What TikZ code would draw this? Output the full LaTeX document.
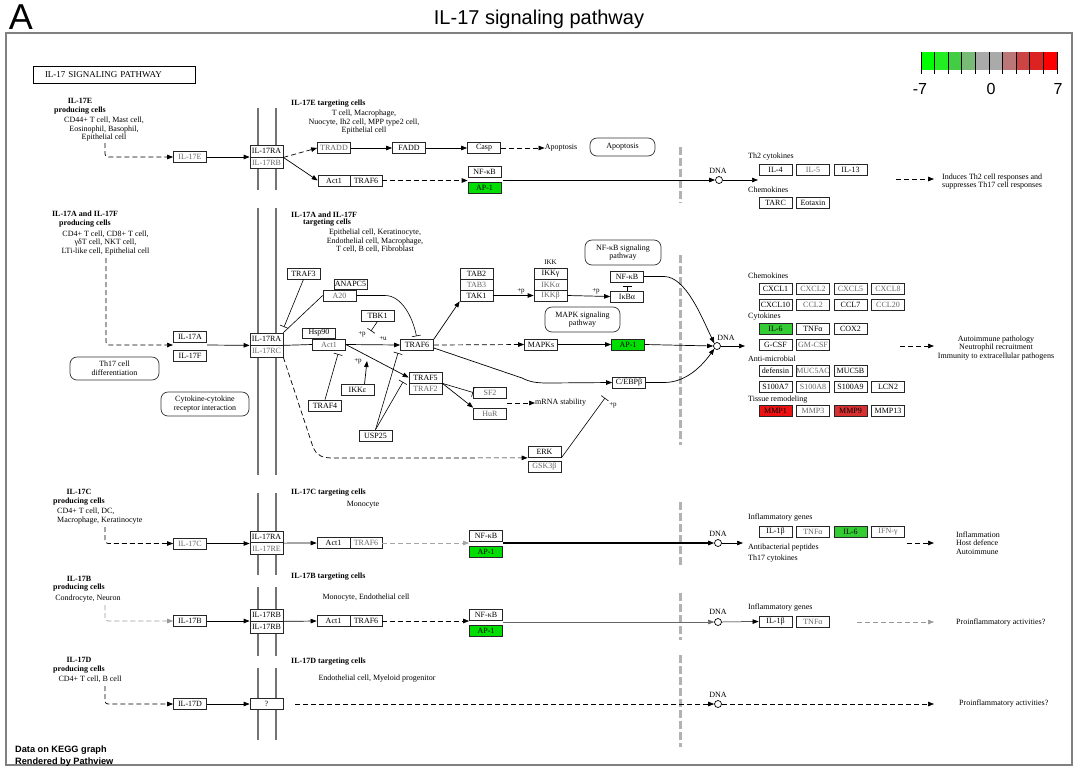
\documentclass[tikz,border=0pt]{standalone}
\usepackage{fontspec}
\setmainfont{Liberation Serif}
\newfontfamily\sansf{Liberation Sans}
\usetikzlibrary{arrows.meta,calc}
\newcommand\kgf{\fontsize{8}{8.5}\selectfont}
\newcommand\khf{\fontsize{8}{8.5}\selectfont\bfseries}
\newcommand\ksf{\fontsize{7}{8}\selectfont}
\definecolor{apgreen}{HTML}{00DD00}
\definecolor{ilgreen}{HTML}{33CC33}
\definecolor{mmpa}{HTML}{EE1111}
\definecolor{mmpb}{HTML}{D83030}
\definecolor{lg1}{HTML}{00FF00}
\definecolor{lg2}{HTML}{22EE22}
\definecolor{lg3}{HTML}{44CC44}
\definecolor{lg4}{HTML}{77BB77}
\definecolor{lg5}{HTML}{AAAAAA}
\definecolor{lg6}{HTML}{AAAAAA}
\definecolor{lg7}{HTML}{BB7777}
\definecolor{lg8}{HTML}{CC4444}
\definecolor{lg9}{HTML}{DD2222}
\definecolor{lg10}{HTML}{FF0000}
\begin{document}
\begin{tikzpicture}[x=1pt,y=-1pt,
  gene/.style={draw=black!85, fill=white, line width=0.7pt, minimum width=33pt, minimum height=11pt, inner sep=0pt, font=\kgf},
  gtxt/.style={text=black!60},
  pwbox/.style={draw=black!80, line width=0.7pt, rounded corners=7pt, align=center, font=\kgf, inner sep=0pt},
  captxt/.style={font=\kgf, align=center, inner sep=0pt},
  captxtl/.style={font=\kgf, anchor=west, inner sep=0pt},
  hdtxt/.style={font=\khf, align=center, inner sep=0pt},
  hdtxtl/.style={font=\khf, anchor=west, inner sep=0pt},
  plbl/.style={font=\ksf, inner sep=0pt},
  arr/.style={-{Triangle[length=6pt,width=4.5pt]}, line width=0.7pt},
  inh/.style={-{Bar[width=9pt]}, line width=0.6pt},
  membr/.style={draw=black!55, line width=2.5pt},
  dsh/.style={dash pattern=on 5pt off 3pt},
  fence/.style={draw=black!30, line width=3pt, dash pattern=on 8pt off 3pt},
  dnac/.style={circle, draw, fill=white, inner sep=0pt, minimum size=7pt, line width=0.7pt}
]
\useasboundingbox (0,0) rectangle (1078,769);
\fill[white] (0,0) rectangle (1078,769);

% ---------- header ----------
\node[font=\sansf\fontsize{36}{36}\selectfont, inner sep=0pt] (lblA) at (21,17.5) {A};
\node[font=\sansf\fontsize{20}{20}\selectfont, inner sep=0pt] (title) at (539,19) {IL-17 signaling pathway};
\draw[black!50, line width=1.2pt] (6,33) rectangle (1072,765);
\node[draw=black, line width=1pt, minimum width=162pt, minimum height=17pt, text width=138pt, align=left, inner sep=0pt, font=\fontsize{9}{9}\selectfont] (tbox) at (114,74.5) {IL-17 SIGNALING PATHWAY};

% legend
\foreach \i in {1,...,10} \fill[lg\i] ({921+(\i-1)*13.6},52) rectangle ++(13.6,18);
\foreach \i in {0,...,10} \draw[black, line width=0.8pt] ({921+\i*13.6},52) -- ++(0,22);
\node[font=\sansf\fontsize{16}{16}\selectfont, inner sep=0pt] (lgm) at (920,89) {-7};
\node[font=\sansf\fontsize{16}{16}\selectfont, inner sep=0pt] (lgz) at (991,89) {0};
\node[font=\sansf\fontsize{16}{16}\selectfont, inner sep=0pt] (lgp) at (1058,89) {7};

% membranes and fences
\foreach \a/\b in {108/190, 208/475, 493/575, 587/656, 668/740} {
  \draw[membr] (258,\a) -- (258,\b);
  \draw[membr] (276,\a) -- (276,\b);
}
\foreach \a/\b in {147/203, 255/445, 502/565, 593/640, 655/747}
  \draw[fence] (680,\a) -- (680,\b);

% ---------- Row 1: IL-17E ----------
\node[hdtxt] (h1) at (80,106) {IL-17E\\producing cells};
\node[captxt] (c1) at (104,129.5) {CD44+ T cell, Mast cell,\\Eosinophil, Basophil,\\Epithelial cell};
\node[hdtxtl] (t1) at (291,104) {IL-17E targeting cells};
\node[captxt] (tc1) at (364,122.5) {T cell, Macrophage,\\Nuocyte, Ih2 cell, MPP type2 cell,\\Epithelial cell};
\node[gene,gtxt] (il17e) at (190,157) {IL-17E};
\node[gene,minimum height=11.5pt] (r1a) at (266.5,151.3) {IL-17RA};
\node[gene,gtxt,minimum height=11.5pt] (r1b) at (266.5,162.7) {IL-17RB};
\node[gene,gtxt] (tradd) at (334,148) {TRADD};
\node[gene] (fadd) at (409,148) {FADD};
\node[gene] (casp) at (484,148) {Casp};
\node[captxt] (apoptxt) at (561,148) {Apoptosis};
\node[pwbox, minimum width=65pt, minimum height=18pt] (apopbox) at (622.5,147) {Apoptosis};
\node[gene,minimum width=32pt] (act1e) at (334,180.5) {Act1};
\node[gene,minimum width=32pt] (traf6e) at (366,180.5) {TRAF6};
\node[gene] (nfkbe) at (484.5,171.5) {NF-κB};
\node[gene,fill=apgreen] (ap1e) at (484.5,187.5) {AP-1};
\node[dnac] (dna1) at (719,180) {};
\node[captxt] (dnat1) at (718,171) {DNA};
\node[captxtl] (th2) at (748,157) {Th2 cytokines};
\node[gene] (il4) at (775.5,170) {IL-4};
\node[gene,gtxt] (il5) at (813,170) {IL-5};
\node[gene] (il13) at (850.5,170) {IL-13};
\node[captxtl] (chem1) at (748,190) {Chemokines};
\node[gene] (tarc) at (775.5,202.5) {TARC};
\node[gene] (eotaxin) at (813,202.5) {Eotaxin};
\node[captxtl, align=left] (out1) at (942,181.5) {Induces Th2 cell responses and\\suppresses Th17 cell responses};

\coordinate (s1) at (105,143);
\coordinate (o1) at (503,180);
\coordinate (e1) at (758,180);
\coordinate (d1a) at (896,179);
\coordinate (d1b) at (934,179);
\draw[arr,dsh,rounded corners=3pt] (s1) |- (il17e.west);
\draw[arr] (il17e.east) -- (il17e.east -| r1a.west);
\draw[arr,dsh] (r1a.south east) -- (tradd.west);
\draw[arr] (r1a.south east) -- (act1e.west);
\draw[arr] (tradd) -- (fadd);
\draw[arr] (fadd) -- (casp);
\draw[arr,dsh] (casp) -- (apoptxt);
\draw[arr,dsh] (traf6e.east) -- (traf6e.east -| nfkbe.west);
\draw[arr] (o1) -- (dna1.west);
\draw[arr] (dna1.east) -- (e1);
\draw[arr,dsh] (d1a) -- (d1b);

% ---------- Row 2: IL-17A / IL-17F ----------
\node[hdtxt] (h2) at (85,219) {IL-17A and IL-17F\\producing cells};
\node[captxt] (c2) at (105.5,243) {CD4+ T cell, CD8+ T cell,\\γδT cell, NKT cell,\\LTi-like cell, Epithelial cell};
\node[hdtxtl] (t2) at (291,215) {IL-17A and IL-17F};
\node[hdtxt] (t2b) at (327,223) {targeting cells};
\node[captxt] (tc2) at (375,241) {Epithelial cell, Keratinocyte,\\Endothelial cell, Macrophage,\\T cell, B cell, Fibroblast};
\node[gene] (il17a) at (190,336.5) {IL-17A};
\node[gene] (il17f) at (190,355.5) {IL-17F};
\node[gene,minimum height=12pt] (r2a) at (266.5,339) {IL-17RA};
\node[gene,gtxt,minimum height=12pt] (r2c) at (266.5,351) {IL-17RC};
\node[pwbox, minimum width=89pt, minimum height=23pt] (th17) at (114.5,368.5) {Th17 cell\\differentiation};
\node[pwbox, minimum width=88pt, minimum height=24pt] (cyto) at (205,404) {Cytokine-cytokine\\receptor interaction};

\node[gene] (traf3) at (303.5,273.5) {TRAF3};
\node[gene,minimum height=10pt] (anapc5) at (350.5,284) {ANAPC5};
\node[gene,gtxt] (a20) at (339.5,295.5) {A20};
\node[gene,minimum height=10pt] (hsp90) at (319,333) {Hsp90};
\node[gene,gtxt] (act1) at (329,344.5) {Act1};
\node[gene] (tbk1) at (377.5,315.5) {TBK1};
\node[gene] (traf6) at (417,345) {TRAF6};
\node[gene] (ikke) at (357.5,390) {IKKε};
\node[gene] (traf4) at (325,405.5) {TRAF4};
\node[gene] (traf5) at (425.5,377.5) {TRAF5};
\node[gene,gtxt] (traf2) at (425.5,388.5) {TRAF2};
\node[gene,gtxt] (sf2) at (490,392.5) {SF2};
\node[gene,gtxt] (hur) at (490,413.5) {HuR};
\node[gene] (usp25) at (375.5,435.5) {USP25};
\node[gene] (erk) at (544.5,452) {ERK};
\node[gene,gtxt] (gsk) at (544.5,467) {GSK3β};
\node[gene] (tab2) at (476.5,273.5) {TAB2};
\node[gene,gtxt] (tab3) at (476.5,284.5) {TAB3};
\node[gene] (tak1) at (476.5,295.5) {TAK1};
\node[plbl] (ikklbl) at (550.5,262) {IKK};
\node[gene] (ikkg) at (550.5,273.5) {IKKγ};
\node[gene,gtxt] (ikka) at (550.5,284.5) {IKKα};
\node[gene,gtxt] (ikkb) at (550.5,295.5) {IKKβ};
\node[gene] (mapks) at (541,344.5) {MAPKs};
\node[pwbox, minimum width=76pt, minimum height=25pt] (nfpath) at (623,252.5) {NF-κB signaling\\pathway};
\node[pwbox, minimum width=75pt, minimum height=25pt] (mapkpath) at (582.5,319.5) {MAPK signaling\\pathway};
\node[gene] (nfkb2) at (627,276.5) {NF-κB};
\node[gene] (ikba) at (627,296.5) {IκBα};
\node[gene,fill=apgreen] (ap1b) at (628,344.5) {AP-1};
\node[gene] (cebpb) at (629,382.5) {C/EBPβ};
\node[captxtl] (mrna) at (535,403) {mRNA stability};
\node[dnac] (dna2) at (717,346) {};
\node[captxt] (dnat2) at (726,338) {DNA};

\node[plbl] (pu) at (383,339) {+u};
\node[plbl] (pp1) at (362,334) {+p};
\node[plbl] (pp2) at (358,361) {+p};
\node[plbl] (pp3) at (521,291.5) {+p};
\node[plbl] (pp4) at (596,291) {+p};
\node[plbl] (pp5) at (613,405) {+p};

% right side of row 2
\node[captxtl] (chem2) at (748,276) {Chemokines};
\node[gene] (cxcl1) at (775.5,288.5) {CXCL1};
\node[gene,gtxt] (cxcl2) at (813,288.5) {CXCL2};
\node[gene,gtxt] (cxcl5) at (850.5,288.5) {CXCL5};
\node[gene,gtxt] (cxcl8) at (888,288.5) {CXCL8};
\node[gene] (cxcl10) at (775.5,304.5) {CXCL10};
\node[gene,gtxt] (ccl2) at (813,304.5) {CCL2};
\node[gene] (ccl7) at (850.5,304.5) {CCL7};
\node[gene,gtxt] (ccl20) at (888,304.5) {CCL20};
\node[captxtl] (cytk) at (748,317) {Cytokines};
\node[gene,fill=ilgreen] (il6b) at (775.5,329) {IL-6};
\node[gene] (tnfab) at (813,329) {TNFα};
\node[gene] (cox2) at (850.5,329) {COX2};
\node[gene] (gcsf) at (775.5,345) {G-CSF};
\node[gene,gtxt] (gmcsf) at (813,345) {GM-CSF};
\node[captxtl] (amic) at (748,359) {Anti-microbial};
\node[gene] (defensin) at (775.5,371) {defensin};
\node[gene,gtxt] (muc5ac) at (813,371) {MUC5AC};
\node[gene] (muc5b) at (850.5,371) {MUC5B};
\node[gene] (s100a7) at (775.5,386.5) {S100A7};
\node[gene,gtxt] (s100a8) at (813,386.5) {S100A8};
\node[gene] (s100a9) at (850.5,386.5) {S100A9};
\node[gene] (lcn2) at (888,386.5) {LCN2};
\node[captxtl] (tissue) at (748,400) {Tissue remodeling};
\node[gene,fill=mmpa] (mmp1) at (775.5,411) {MMP1};
\node[gene,gtxt] (mmp3) at (813,411) {MMP3};
\node[gene,fill=mmpb] (mmp9) at (850.5,411) {MMP9};
\node[gene] (mmp13) at (888,411) {MMP13};
\node[captxt] (out2) at (996,348) {Autoimmune pathology\\Neutrophil recruitment\\Immunity to extracellular pathogens};

\coordinate (s2) at (106,258);
\coordinate (afw) at (173,345);
\coordinate (afe) at (207,345);
\coordinate (t3e) at (284,327);
\coordinate (tbe) at (371,331);
\coordinate (t4e) at (338,354);
\coordinate (ike) at (367,361);
\coordinate (u1) at (398,353);
\coordinate (u2) at (403,382);
\coordinate (ms) at (507,403);
\coordinate (gke) at (605,398);
\coordinate (e2) at (745,346);
\coordinate (d2a) at (900,346);
\coordinate (d2b) at (934,346);

\draw[arr,dsh,rounded corners=3pt] (s2) |- (afw);
\draw[arr] (afe) -- (r2a.south west);
\draw[line width=0.7pt] (r2a.south east) -- (act1.west);
\draw[arr] (act1.east) -- (traf6.west);
\draw[inh] (traf3.south) -- (t3e);
\draw[line width=0.6pt] (r2a.north east) -- (a20.west);
\draw[inh, shorten >=3pt] (a20.east) -- (385,295.5) .. controls (402,295.5) and (413,318) .. (traf6.north);
\draw[inh] (tbk1.south) -- (tbe);
\draw[inh] (traf4.north) -- (t4e);
\draw[arr] ($(ikke.north)+(7,0)$) -- (ike);
\draw[arr] (act1.east) -- (traf5.west);
\draw[inh] (usp25.north) -- (u1);
\draw[inh] (usp25.north) -- (u2);
\draw[arr] (traf6.north east) -- (tak1.south west);
\draw[arr,dsh] (traf6.east) -- (mapks.west);
\draw[arr] ($(traf6.east)+(0,3)$) -- (522,378) .. controls (530,382) and (536,383) .. (548,383) -- (cebpb.west);
\draw[inh] (traf5.south east) -- (sf2.west);
\draw[arr] (traf5.south east) -- (hur.north west);
\draw[arr,dsh] (ms) -- (mrna.west);
\draw[arr] (tak1.east) -- (ikkb.west);
\draw[arr] (ikkb.east) -- (ikba.west);
\draw[inh] (ikba.north) -- ($(nfkb2.south)+(0,4)$);
\draw[arr] (nfkb2.east) -- (664,276.5) .. controls (686,276.5) and (702,318) .. (dna2.north west);
\draw[arr] (mapks.east) -- (ap1b.west);
\draw[arr] (ap1b.east) -- (dna2.west);
\draw[arr] (cebpb.east) -- (664,382.5) .. controls (686,382.5) and (702,366) .. (dna2.south west);
\draw[arr] (dna2.east) -- (e2);
\draw[arr,dsh] (r2c.south east) -- (313,447) .. controls (317,456) and (322,458) .. (334,458) -- (erk.south west);
\draw[inh] (erk.south east) -- (gke);
\draw[arr,dsh] (d2a) -- (d2b);

% ---------- Row 3: IL-17C ----------
\node[hdtxt] (h3) at (79,497) {IL-17C\\producing cells};
\node[captxtl, align=left] (c3) at (57,516) {CD4+ T cell, DC,\\Macrophage, Keratinocyte};
\node[hdtxtl] (t3) at (291,493) {IL-17C targeting cells};
\node[captxt] (tc3) at (363,505) {Monocyte};
\node[gene,gtxt] (il17c) at (190,543.5) {IL-17C};
\node[gene,minimum height=11.5pt] (r3a) at (266.5,537) {IL-17RA};
\node[gene,gtxt,minimum height=11.5pt] (r3e) at (266.5,548.5) {IL-17RE};
\node[gene] (act1c) at (333.5,543) {Act1};
\node[gene,gtxt,minimum width=32pt] (traf6c) at (366,543) {TRAF6};
\node[gene] (nfkbc) at (486,536) {NF-κB};
\node[gene,fill=apgreen] (ap1c) at (486,552) {AP-1};
\node[dnac] (dna3) at (718,543) {};
\node[captxt] (dnat3) at (718,534) {DNA};
\node[captxtl] (infl3) at (748,518) {Inflammatory genes};
\node[gene] (il1b3) at (775.5,531.5) {IL-1β};
\node[gene,gtxt] (tnfa3) at (813,531.5) {TNFα};
\node[gene,fill=ilgreen] (il6c) at (850.5,531.5) {IL-6};
\node[gene,gtxt] (ifng) at (888,531.5) {IFN-γ};
\node[captxtl] (abp) at (748,548) {Antibacterial peptides};
\node[captxtl] (th17c) at (748,559) {Th17 cytokines};
\node[captxtl, align=left] (out3) at (956,543) {Inflammation\\Host defence\\Autoimmune};

\coordinate (s3) at (105,527);
\coordinate (o3) at (503,543);
\coordinate (e3) at (743,543);
\coordinate (d3a) at (907,543);
\coordinate (d3b) at (934,543);
\draw[arr,dsh,rounded corners=3pt] (s3) |- (il17c.west);
\draw[arr] (il17c.east) -- (il17c.east -| r3a.west);
\draw[arr] (r3a.south east) -- (act1c.west);
\draw[arr,dsh,black!35] (traf6c.east) -- (traf6c.east -| nfkbc.west);
\draw[arr,line width=1.1pt] (o3) -- (dna3.west);
\draw[arr] (dna3.east) -- (e3);
\draw[arr,dsh] (d3a) -- (d3b);

% ---------- Row 4: IL-17B ----------
\node[hdtxt] (h4) at (79,583.5) {IL-17B\\producing cells};
\node[captxt] (c4) at (88,599) {Condrocyte, Neuron};
\node[hdtxtl] (t4) at (291,577) {IL-17B targeting cells};
\node[captxt] (tc4) at (366,598) {Monocyte, Endothelial cell};
\node[gene] (il17b) at (190,621) {IL-17B};
\node[gene,minimum height=12pt] (r4a) at (266.5,615) {IL-17RB};
\node[gene,minimum height=12pt] (r4b) at (266.5,627) {IL-17RB};
\node[gene] (act1b) at (333.5,621) {Act1};
\node[gene,minimum width=32pt] (traf6b) at (366,621) {TRAF6};
\node[gene] (nfkbb) at (486,614.5) {NF-κB};
\node[gene,fill=apgreen] (ap1d) at (486,631) {AP-1};
\node[dnac] (dna4) at (718,622) {};
\node[captxt] (dnat4) at (718,612) {DNA};
\node[captxtl] (infl4) at (748,608) {Inflammatory genes};
\node[gene] (il1b4) at (775.5,621.5) {IL-1β};
\node[gene,gtxt] (tnfa4) at (813,621.5) {TNFα};
\node[captxtl] (out4) at (956,623) {Proinflammatory activities?};

\coordinate (s4) at (105,605);
\coordinate (o4) at (503,622);
\coordinate (d4a) at (857,622);
\coordinate (d4b) at (934,622);
\draw[arr,dsh,black!40,rounded corners=3pt] (s4) |- (il17b.west);
\draw[arr] (il17b.east) -- (il17b.east -| r4a.west);
\draw[arr] (r4a.south east) -- (act1b.west);
\draw[arr,dsh] (traf6b.east) -- (traf6b.east -| nfkbb.west);
\draw[arr,line width=0.5pt,black!60] (o4) -- (dna4.west);
\draw[arr,line width=0.5pt] (dna4.east) -- (il1b4.west);
\draw[arr,dsh,black!40] (d4a) -- (d4b);

% ---------- Row 5: IL-17D ----------
\node[hdtxt] (h5) at (79,665) {IL-17D\\producing cells};
\node[captxt] (c5) at (90,679) {CD4+ T cell, B cell};
\node[hdtxtl] (t5) at (291,662) {IL-17D targeting cells};
\node[captxt] (tc5) at (377,679) {Endothelial cell, Myeloid progenitor};
\node[gene] (il17d) at (190,704) {IL-17D};
\node[gene] (qbox) at (266.5,704) {?};
\node[dnac] (dna5) at (718,704) {};
\node[captxt] (dnat5) at (718,695) {DNA};
\node[captxtl] (out5) at (959,704) {Proinflammatory activities?};

\coordinate (s5) at (105,686);
\coordinate (o5) at (295,704);
\coordinate (e5) at (934,704);
\draw[arr,dsh,rounded corners=3pt] (s5) |- (il17d.west);
\draw[arr] (il17d) -- (qbox);
\draw[arr,dsh] (o5) -- (dna5.west);
\draw[arr,dsh] (dna5.east) -- (e5);

% footer
\node[font=\sansf\bfseries\fontsize{9.2}{12}\selectfont, anchor=west, align=left, inner sep=0pt] (foot) at (15,756) {Data on KEGG graph\\Rendered by Pathview};
\end{tikzpicture}
\end{document}
